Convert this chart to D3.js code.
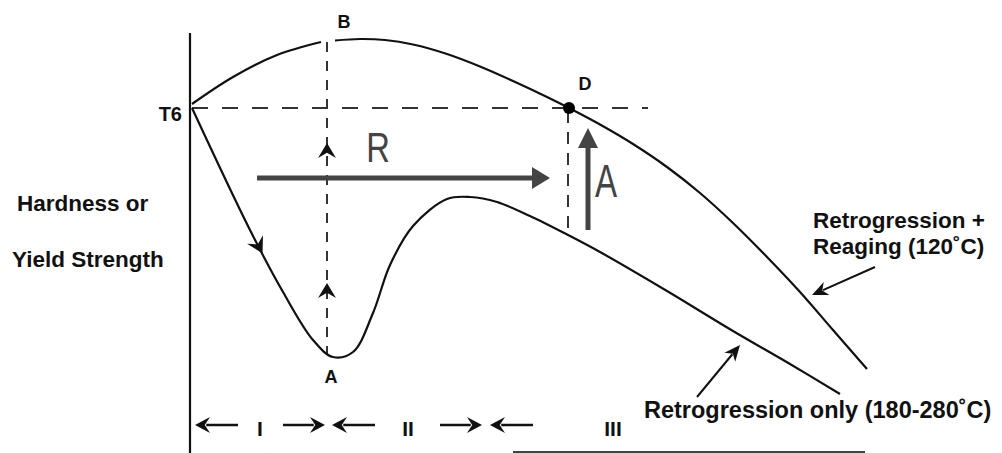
<!DOCTYPE html>
<html lang="en">
<head>
<meta charset="UTF-8">
<title>Retrogression and reaging</title>
<script src="https://d3js.org/d3.v7.min.js"></script>
<style>
  body { margin: 0; background: #fff; }
  svg { font-family: "Liberation Sans", Arial, Helvetica, sans-serif; display: block; }
  .curve { fill: none; stroke: #111; stroke-width: 2.2px; }
  .guide { fill: none; stroke: #333; stroke-width: 2px; }
  .lbl { font-weight: bold; fill: #111; }
</style>
</head>
<body>
<svg></svg>
<script>
// schematic: time (arbitrary units) vs hardness (arbitrary units)
const t6Level = 34.5;
const reageEarly = [[0.2, 34.9], [4.3, 37.6], [8.7, 39.8], [13.1, 41.1]];
const reageLate = [[14.5, 41.25], [17.0, 41.4], [19.5, 41.3], [22.3, 40.85], [25.7, 39.9],
  [29.0, 38.65], [32.3, 37.2], [35.7, 35.6], [37.9, 34.5], [41.0, 32.85], [44.3, 30.9],
  [47.7, 28.6], [51.0, 26.0], [54.3, 23.0], [57.7, 19.6], [61.0, 16.1], [64.3, 12.3], [67.7, 8.4]];
const retroOnly = [[0.2, 34.5], [6.0, 22.3], [9.3, 16.1], [12.3, 11.3], [14.3, 9.6], [16.3, 10.1],
  [18.3, 14.0], [20.0, 18.8], [22.3, 22.7], [25.7, 25.4], [28.0, 25.6], [30.7, 25.1],
  [34.0, 23.7], [37.8, 21.8], [41.0, 20.1], [47.7, 16.2], [54.3, 12.2], [60.0, 8.9], [65.0, 5.9]];
const pointA = [14.3, 9.6];
const pointB = [13.7, 41.1];
const pointD = [37.9, 34.5];
const reageArrow = [[39.8, 22.3], [39.8, 32.5]];   // "A"
const retroArrow = [[6.7, 27.5], [36.0, 27.5]];    // "R"
const phaseLabels = ['I', 'II', 'III'];
const phaseCentres = [7.0, 21.8, 42.3];
const phaseArrows = [[4.8, 0.5], [9.3, 13.5], [18.5, 14.2], [25.0, 29.2], [34.3, 30.0]];
const phaseLevel = 2.8;
const calloutReage = [[68.5, 18.6], [62.2, 15.8]];
const calloutRetro = [[50.7, 5.6], [55.0, 10.8]];

const W = 1002, H = 453;
const svg = d3.select('svg').attr('width', W).attr('height', H);
const x = d3.scaleLinear().domain([0, 68]).range([190, 870]);
const y = d3.scaleLinear().domain([0, 45]).range([453, 3]);

const line = d3.line().x(d => x(d[0])).y(d => y(d[1])).curve(d3.curveCatmullRom.alpha(0.5));

function head(px, py, ang, len, wid, fill, notch) {
  const n = notch == null ? 0.7 : notch;
  svg.append('path')
    .attr('d', `M0,0L${-len},${-wid / 2}L${-len * n},0L${-len},${wid / 2}Z`)
    .attr('transform', `translate(${px},${py}) rotate(${ang * 180 / Math.PI})`)
    .attr('fill', fill);
}

function arrow(pair, opts) {
  const x0 = x(pair[0][0]), y0 = y(pair[0][1]);
  const x1 = x(pair[1][0]), y1 = y(pair[1][1]);
  const ang = Math.atan2(y1 - y0, x1 - x0);
  const back = opts.len * 0.75;
  svg.append('line')
    .attr('x1', x0).attr('y1', y0)
    .attr('x2', x1 - Math.cos(ang) * back).attr('y2', y1 - Math.sin(ang) * back)
    .attr('stroke', opts.color).attr('stroke-width', opts.width);
  head(x1, y1, ang, opts.len, opts.wid, opts.color, opts.notch);
}

// vertical axis
svg.append('line')
  .attr('x1', x(0)).attr('x2', x(0))
  .attr('y1', y(42)).attr('y2', y(0))
  .attr('stroke', '#111').attr('stroke-width', 2.2);

// dashed guides
svg.append('line').attr('class', 'guide')
  .attr('x1', x(0.2)).attr('x2', x(45.8))
  .attr('y1', y(t6Level)).attr('y2', y(t6Level))
  .attr('stroke-dasharray', '16,14');
svg.append('line').attr('class', 'guide')
  .attr('x1', x(pointB[0])).attr('x2', x(pointB[0]))
  .attr('y1', y(pointB[1])).attr('y2', y(pointA[1] + 0.2))
  .attr('stroke-dasharray', '10,9');
svg.append('line').attr('class', 'guide')
  .attr('x1', x(pointD[0] - 0.1)).attr('x2', x(pointD[0] - 0.1))
  .attr('y1', y(pointD[1] - 0.3)).attr('y2', y(21.8))
  .attr('stroke-dasharray', '12,9');

// small arrowheads on the A-B guide
[31.0, 17.0].forEach(h => head(x(pointB[0]), y(h), -Math.PI / 2, 15, 18, '#111', 0.65));

// curves
svg.append('path').attr('class', 'curve').attr('d', line(reageEarly));
svg.append('path').attr('class', 'curve').attr('d', line(reageLate));
svg.append('path').attr('class', 'curve').attr('d', line(retroOnly));

// direction marker on the falling branch
{
  const a = retroOnly[1], b = retroOnly[2];
  const ang = Math.atan2(y(b[1]) - y(a[1]), x(b[0]) - x(a[0]));
  const f = 0.38;
  head(x(a[0] + (b[0] - a[0]) * f), y(a[1] + (b[1] - a[1]) * f), ang, 16, 18, '#111', 0.65);
}

// point D
svg.append('circle').attr('cx', x(pointD[0])).attr('cy', y(pointD[1])).attr('r', 6).attr('fill', '#000');

// R and A arrows
arrow(retroArrow, { color: '#444', width: 5, len: 18, wid: 22, notch: 1 });
arrow(reageArrow, { color: '#444', width: 5, len: 20, wid: 20, notch: 1 });

svg.append('text')
  .attr('transform', `translate(${x(18.8)},${y(29.1)}) scale(0.78,1)`)
  .attr('text-anchor', 'middle').attr('font-size', 42).attr('fill', '#444')
  .text('R');
svg.append('text')
  .attr('transform', `translate(${x(41.6)},${y(25.6)}) scale(0.72,1)`)
  .attr('text-anchor', 'middle').attr('font-size', 46).attr('fill', '#444')
  .text('A');

// point labels
svg.append('text').attr('class', 'lbl').attr('font-size', 18)
  .attr('x', x(pointB[0]) + 17).attr('y', 28).attr('text-anchor', 'middle').text('B');
svg.append('text').attr('class', 'lbl').attr('font-size', 18)
  .attr('x', x(pointA[0]) - 2).attr('y', y(pointA[1]) + 26).attr('text-anchor', 'middle').text('A');
svg.append('text').attr('class', 'lbl').attr('font-size', 18)
  .attr('x', x(pointD[0]) + 16).attr('y', y(pointD[1]) - 18).attr('text-anchor', 'middle').text('D');
svg.append('text').attr('class', 'lbl').attr('font-size', 20)
  .attr('x', x(0) - 8).attr('y', y(t6Level) + 13).attr('text-anchor', 'end').text('T6');

// axis title
svg.append('text').attr('class', 'lbl').attr('font-size', 22.5)
  .attr('x', 17).attr('y', 211).text('Hardness or');
svg.append('text').attr('class', 'lbl').attr('font-size', 22.5)
  .attr('x', 12).attr('y', 267).text('Yield Strength');

// curve call-outs
svg.append('text').attr('class', 'lbl').attr('font-size', 22.5)
  .attr('x', 813).attr('y', 228).text('Retrogression +');
svg.append('text').attr('class', 'lbl').attr('font-size', 22.5)
  .attr('x', 813).attr('y', 254).text('Reaging (120˚C)');
svg.append('text').attr('class', 'lbl').attr('font-size', 23.5)
  .attr('x', 644).attr('y', 418).text('Retrogression only (180-280˚C)');
arrow(calloutReage, { color: '#111', width: 2, len: 16, wid: 14, notch: 0.7 });
arrow(calloutRetro, { color: '#111', width: 2, len: 16, wid: 14, notch: 0.7 });

// stage markers along the bottom
phaseArrows.forEach(p => arrow([[p[0], phaseLevel], [p[1], phaseLevel]],
  { color: '#111', width: 2.5, len: 15, wid: 16, notch: 0.65 }));
svg.selectAll('text.phase').data(phaseLabels).enter().append('text')
  .attr('class', 'lbl phase').attr('font-size', 21)
  .attr('x', (d, i) => x(phaseCentres[i])).attr('y', y(phaseLevel) + 11)
  .attr('text-anchor', 'middle').text(d => d);
svg.append('line')
  .attr('x1', x(32.3)).attr('x2', x(67.5))
  .attr('y1', y(0.1)).attr('y2', y(0.1))
  .attr('stroke', '#444').attr('stroke-width', 2);
</script>
</body>
</html>
